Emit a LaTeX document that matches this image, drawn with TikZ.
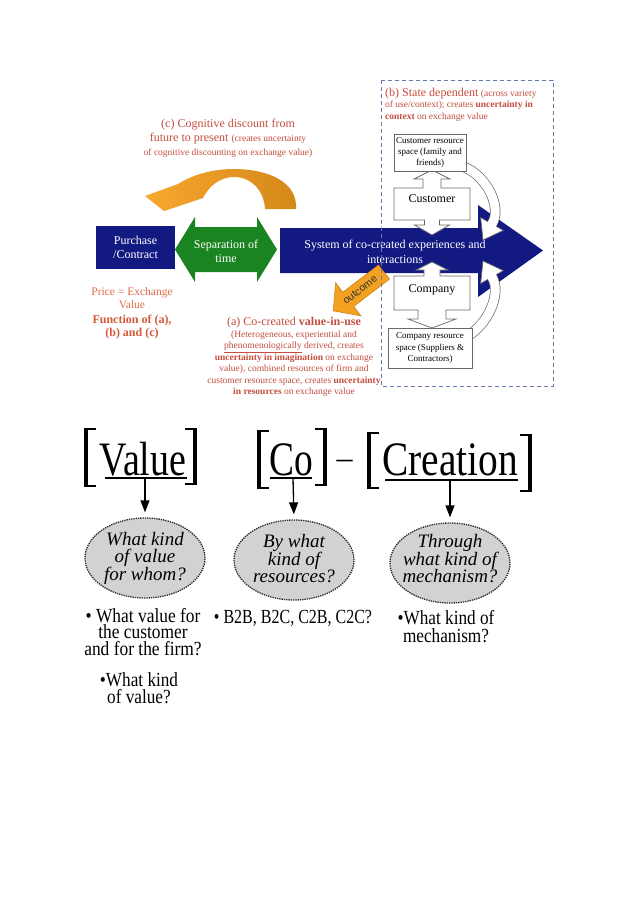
\documentclass[tikz,border=0pt]{standalone}
\usepackage{fontspec}
\setmainfont{Liberation Serif}
\newfontfamily\arialf{Liberation Sans}
\usetikzlibrary{arrows.meta,shapes.geometric}
\definecolor{navy}{RGB}{18,26,130}
\definecolor{grn}{RGB}{26,132,32}
\definecolor{redtxt}{RGB}{196,78,62}
\definecolor{pricec}{RGB}{226,106,72}
\definecolor{funcc}{RGB}{212,88,58}
\definecolor{orgL}{RGB}{247,168,46}
\definecolor{orgD}{RGB}{212,136,26}
\definecolor{outc}{RGB}{242,162,32}
\definecolor{outd}{RGB}{200,124,20}
\definecolor{dashc}{RGB}{100,122,172}
\definecolor{ellg}{RGB}{210,210,210}
\definecolor{boxc}{RGB}{105,105,105}
\newcommand{\fs}[2]{\fontsize{#1}{#2}\selectfont}
\newcommand{\sqz}[3]{\scalebox{#1}[1]{\vbox{\baselineskip=#2pt\lineskiplimit=-20pt\halign{\hfil##\hfil\cr #3\crcr}}}}
\newcommand{\lbrk}[3]{\fill[black] (#1,#2) rectangle (#1+3.5,#3); \fill[black] (#1,#2) rectangle (#1+12,#2+1.6); \fill[black] (#1,#3-1.6) rectangle (#1+12,#3);}
\newcommand{\rbrk}[3]{\fill[black] (#1,#2) rectangle (#1-3.5,#3); \fill[black] (#1,#2) rectangle (#1-12,#2+1.6); \fill[black] (#1,#3-1.6) rectangle (#1-12,#3);}
\begin{document}
\begin{tikzpicture}[x=1pt,y=-1pt,
  wbox/.style={draw=boxc, fill=white, line width=0.7, align=center, inner sep=1},
  wshape/.style={fill=white, draw=boxc, line width=0.7},
  band/.style={draw=boxc, double=white, double distance=9, line width=0.7},
  ellbox/.style={ellipse, draw=black!85, densely dotted, line width=1.3, fill=ellg, minimum width=120, minimum height=80, inner sep=0},
  elltxt/.style={align=center, inner sep=0, font=\itshape\fs{19}{17.5}},
  downarr/.style={-{Triangle[width=9,length=12]}, line width=1.3},
  bull/.style={font=\fs{20}{16.5}, inner sep=0},
  redt/.style={text=redtxt, align=center, inner sep=0}]

\fill[white] (0,0) rectangle (638,903);
\useasboundingbox (0,0) rectangle (638,903);

% (c) text
\node[redt, font=\fs{12}{14}] (ctext) at (228,138) {(c) Cognitive discount from\\future to present {\fs{9.5}{11}(creates uncertainty}\\{\fs{9.5}{11}of cognitive discounting on exchange value)}};

% curved orange arrow
\shade[left color=orgL, right color=orgD] (296,209) .. controls (298,182) and (268,169) .. (234,169) .. controls (212,169) and (192,175) .. (178,184) -- (145,196) -- (164,211) -- (203,198) .. controls (209,186) and (220,177) .. (234,177) .. controls (251,177) and (264,190) .. (265,209) -- cycle;

% purchase box
\node[fill=navy, text=white, minimum width=79, minimum height=43, inner sep=0, align=center, font=\fs{12}{14}] (purch) at (135.5,247.5) {Purchase\\/Contract};

% green double arrow
\fill[grn] (175,249.5) -- (195,217) -- (195,227) -- (257,227) -- (257,217) -- (277,249.5) -- (257,282) -- (257,272) -- (195,272) -- (195,282) -- cycle;
\node[text=white, align=center, font=\fs{12}{14}] (sep) at (226,251) {Separation of\\time};

% main arrow
\fill[navy] (280,228) -- (478,228) -- (478,205) -- (543,250.5) -- (478,297) -- (478,273) -- (280,273) -- cycle;
\node[text=white, align=center, font=\fs{12}{15}] (sys) at (395,252) {System of co-created experiences and\\interactions};

% price texts
\node[text=pricec, align=center, inner sep=0, font=\fs{11.5}{12.7}] (price) at (132,298) {Price = Exchange\\Value};
\node[text=funcc, align=center, inner sep=0, font=\bfseries\fs{12}{13}] (func) at (132,327.5) {Function of (a),\\(b) and (c)};

% (a) text
\node[redt, font=\fs{9.5}{11.5}] (atext) at (294,357) {{\fs{12}{14}(a) Co-created \textbf{value-in-use}}\\(Heterogeneous, experiential and\\\underline{phenomenologically} derived, creates\\\textbf{uncertainty in imagination} on exchange\\value), combined resources of firm and\\customer resource space, creates \textbf{uncertainty}\\\textbf{in resources} on exchange value};

% outcome arrow
\filldraw[fill=outc, draw=outd, line width=0.5] (378.5,264.9) -- (389.5,279.1) -- (353.8,306.4) -- (361.0,316.0) -- (333.2,310.8) -- (335.6,282.6) -- (342.8,292.2) -- cycle;
\node[rotate=37.4, inner sep=0, font=\arialf\fs{10.5}{11}, text=black!80] (outtxt) at (360,290) {outcome};

% curved white arrows
\draw[band] (462,166) .. controls (488,176) and (502,208) .. (492,224);
\filldraw[wshape] (503.3,230.4) -- (483,240) -- (480.7,217.6) -- cycle;
\draw[white, line width=9] (493,222.2) -- (491,225.8);
\draw[band] (466,337) .. controls (488,325) and (502,293) .. (492,277);
\filldraw[wshape] (503.3,270.6) -- (483,261) -- (480.7,283.4) -- cycle;
\draw[white, line width=9] (493,278.8) -- (491,275.2);

% customer shape
\filldraw[wshape] (432,170) -- (450,179) -- (441,179) -- (441,188) -- (470,188) -- (470,220) -- (439.5,220) -- (439.5,225) -- (449.5,225) -- (432,235) -- (414.5,225) -- (424.5,225) -- (424.5,220) -- (394,220) -- (394,188) -- (423,188) -- (423,179) -- (414,179) -- cycle;
\node[font=\fs{12}{14}, inner sep=0] (cust) at (432,199) {Customer};

% company shape
\filldraw[wshape] (432,262) -- (448,270) -- (440,270) -- (440,276) -- (470,276) -- (470,310) -- (446,310) -- (446,319) -- (456,319) -- (432,328) -- (408,319) -- (418,319) -- (418,310) -- (394,310) -- (394,276) -- (424,276) -- (424,270) -- (416,270) -- cycle;
\node[font=\fs{12}{14}, inner sep=0] (comp) at (432,290) {Company};

% resource boxes
\node[wbox, minimum width=72, minimum height=37, font=\fs{9}{11}] (crs) at (430,152.5) {Customer resource\\space (family and\\friends)};
\node[wbox, minimum width=84, minimum height=40, font=\fs{9}{11.5}] (cos) at (430,348) {Company resource\\space (Suppliers \&\\Contractors)};

% (b) text
\node[text=redtxt, align=left, anchor=west, inner sep=0, font=\fs{9.5}{11.5}] (btext) at (385,104.5) {{\fs{12}{14}(b) State dependent} (across variety\\of use/context); creates \textbf{uncertainty in}\\\textbf{context} on exchange value};

% dashed frame
\draw[dashc, dash pattern=on 4pt off 3pt, line width=0.9] (381,80) rectangle (553,386);

% ===== lower part =====
\lbrk{84}{428}{487}
\rbrk{196.5}{428}{485}
\lbrk{257}{430}{489}
\rbrk{326.5}{428}{486}
\lbrk{367}{432}{489}
\rbrk{531.5}{434}{492}

\node[anchor=base, inner sep=0, font=\fs{48}{48}] (wvalue) at (143,475) {\scalebox{0.79}[1]{Value}};
\node[anchor=base, inner sep=0, font=\fs{48}{48}] (wco) at (291.5,475) {\scalebox{0.78}[1]{Co}};
\node[anchor=base, inner sep=0, font=\fs{32}{32}] (wdash) at (344.5,468) {–};
\node[anchor=base, inner sep=0, font=\fs{48}{48}] (wcre) at (450,475) {\scalebox{0.82}[1]{Creation}};

\draw[line width=1.2] (105,478) -- (187,478);
\draw[line width=1.2] (270,478) -- (312,478);
\draw[line width=1.2] (385,480) -- (518,480);
\coordinate (uv) at (145,478);
\coordinate (uc) at (293,478);
\coordinate (ucr) at (450,480);

\node[ellbox] (e1) at (145,558) {};
\node[elltxt] (e1t) at (145,558) {What kind\\of value\\for whom?};
\node[ellbox] (e2) at (294,560) {};
\node[elltxt] (e2t) at (294,559) {By what\\kind of\\resources?};
\node[ellbox] (e3) at (450,563) {};
\node[elltxt] (e3t) at (450,559) {Through\\what kind of\\mechanism?};

\draw[downarr, shorten >=5pt] (uv) -- (e1.north);
\draw[downarr, shorten >=5pt] (uc) -- (e2.north);
\draw[downarr, shorten >=5pt] (ucr) -- (e3.north);

\node[bull] (b1) at (143,632) {\sqz{0.87}{16.5}{• What value for\cr the customer\cr and for the firm?}};
\node[bull] (b2) at (139,688) {\sqz{0.86}{16.5}{•What kind\cr of value?}};
\node[bull] (b3) at (293,618) {\scalebox{0.8}[1]{• B2B, B2C, C2B, C2C?}};
\node[bull] (b4) at (446,627) {\sqz{0.86}{18}{•What kind of\cr mechanism?}};
\end{tikzpicture}
\end{document}
